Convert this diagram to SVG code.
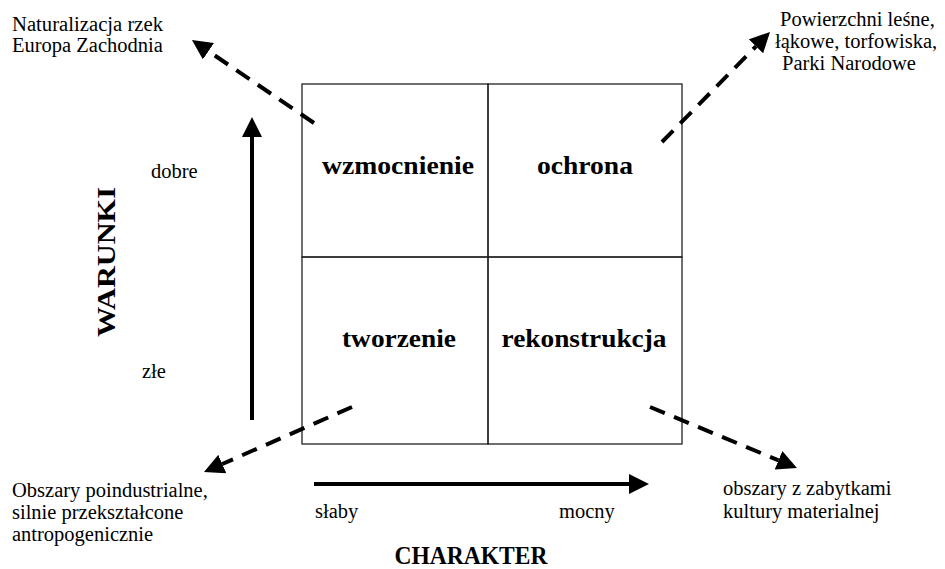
<svg xmlns="http://www.w3.org/2000/svg" width="945" height="569" viewBox="0 0 945 569">
<defs>
<style>
.t{font-family:'Liberation Serif','DejaVu Serif',serif;font-size:20.5px;fill:#000}
.b{font-family:'Liberation Serif','DejaVu Serif',serif;font-size:25px;font-weight:bold;fill:#000}
.cell{fill:none;stroke:#222;stroke-width:1.3}
.dash{fill:none;stroke:#000;stroke-width:4;stroke-dasharray:16,10}
.solid{fill:none;stroke:#000;stroke-width:4}
</style>
<marker id="ah" markerUnits="userSpaceOnUse" markerWidth="20" markerHeight="20" refX="0" refY="10" orient="auto" viewBox="0 0 20 20">
<path d="M0,0 L20,10 L0,20 z" fill="#000"/>
</marker>
</defs>
<rect width="945" height="569" fill="#fff"/>
<g id="matrix">
<g id="cell-wzmocnienie"><rect class="cell" x="302" y="84" width="186" height="173"/><text class="b" x="398" y="174" text-anchor="middle" textLength="152" lengthAdjust="spacingAndGlyphs">wzmocnienie</text></g>
<g id="cell-ochrona"><rect class="cell" x="488" y="84" width="194" height="173"/><text class="b" x="585" y="174" text-anchor="middle" textLength="96" lengthAdjust="spacingAndGlyphs">ochrona</text></g>
<g id="cell-tworzenie"><rect class="cell" x="302" y="257" width="186" height="187"/><text class="b" x="399" y="347" text-anchor="middle" textLength="114" lengthAdjust="spacingAndGlyphs">tworzenie</text></g>
<g id="cell-rekonstrukcja"><rect class="cell" x="488" y="257" width="194" height="187"/><text class="b" x="584" y="347" text-anchor="middle" textLength="165" lengthAdjust="spacingAndGlyphs">rekonstrukcja</text></g>
</g>
<g id="label-nw"><text class="t" x="12" y="31" textLength="151" lengthAdjust="spacingAndGlyphs">Naturalizacja rzek</text><text class="t" x="12" y="52">Europa Zachodnia</text></g>
<g id="label-ne"><text class="t" x="780" y="26">Powierzchni leśne,</text><text class="t" x="775" y="48">łąkowe, torfowiska,</text><text class="t" x="782" y="70">Parki Narodowe</text></g>
<g id="label-sw"><text class="t" x="12" y="497">Obszary poindustrialne,</text><text class="t" x="12" y="519">silnie przekształcone</text><text class="t" x="12" y="541">antropogenicznie</text></g>
<g id="label-se"><text class="t" x="723" y="495">obszary z zabytkami</text><text class="t" x="723" y="518">kultury materialnej</text></g>
<g id="axis-y-labels">
<text class="b" transform="translate(115,262) rotate(-90)" text-anchor="middle" textLength="150" lengthAdjust="spacingAndGlyphs">WARUNKI</text>
<text class="t" x="151" y="178">dobre</text>
<text class="t" x="142" y="378">złe</text>
</g>
<g id="axis-x-labels">
<text class="b" x="471" y="564" text-anchor="middle" textLength="153" lengthAdjust="spacingAndGlyphs">CHARAKTER</text>
<text class="t" x="315" y="518">słaby</text>
<text class="t" x="559" y="518">mocny</text>
</g>
<g id="connectors">
<line class="solid" x1="252" y1="420" x2="252" y2="137" marker-end="url(#ah)"/>
<line class="solid" x1="314" y1="484" x2="629" y2="484" marker-end="url(#ah)"/>
<line class="dash" x1="314" y1="123" x2="208.5" y2="51.2" marker-end="url(#ah)"/>
<line class="dash" x1="662" y1="142" x2="756" y2="46.3" marker-end="url(#ah)"/>
<line class="dash" x1="352" y1="407" x2="222.3" y2="464" marker-end="url(#ah)"/>
<line class="dash" x1="650" y1="407" x2="778.5" y2="460.3" marker-end="url(#ah)"/>
</g>
</svg>
